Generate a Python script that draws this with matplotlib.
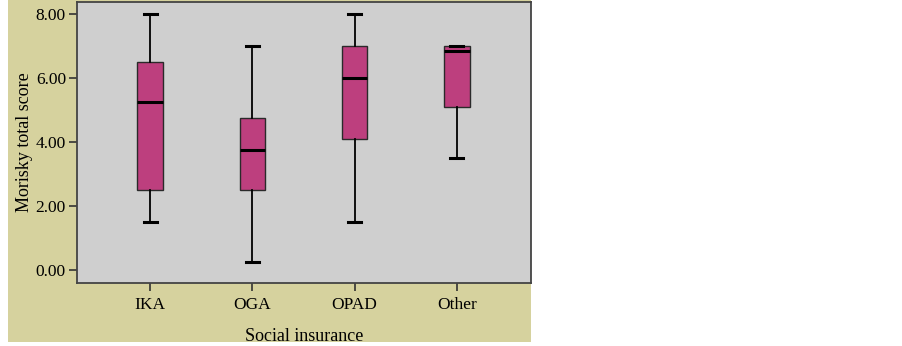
import matplotlib
matplotlib.use('Agg')
import matplotlib.pyplot as plt
from matplotlib.patches import Rectangle

# Morisky score by social insurance
categories = ['IKA', 'OGA', 'OPAD', 'Other']
whisker_low = [1.5, 0.25, 1.5, 3.5]
q1 = [2.5, 2.5, 4.1, 5.1]
median = [5.25, 3.75, 6.0, 6.83]
q3 = [6.5, 4.75, 7.0, 7.0]
whisker_high = [8.0, 7.0, 8.0, 7.0]
yticks = [0, 2, 4, 6, 8]

plt.rcParams['font.family'] = ['Liberation Serif', 'DejaVu Serif']

W, H = 903, 346
fig = plt.figure(figsize=(W / 100, H / 100), dpi=100)
fig.patch.set_facecolor('white')

# khaki panel behind the chart
fig.patches.append(Rectangle((8 / W, 1 - 342 / H), (531 - 8) / W, 342 / H,
                             transform=fig.transFigure, facecolor='#d6d29e',
                             edgecolor='none', zorder=-10))

ax = fig.add_axes([77 / W, 1 - 283 / H, (531 - 77) / W, (283 - 2) / H])
ax.set_zorder(1)
ax.set_facecolor('#cfcfcf')

stats = []
for i, name in enumerate(categories):
    stats.append({'label': name, 'whislo': whisker_low[i], 'q1': q1[i],
                  'med': median[i], 'q3': q3[i], 'whishi': whisker_high[i],
                  'fliers': []})

positions = list(range(1, len(categories) + 1))
ax.bxp(stats, positions=positions, widths=0.25, capwidths=0.125,
       patch_artist=True, showfliers=False,
       boxprops=dict(facecolor='#bd3f7e', edgecolor='#2a2a2a', linewidth=1.0),
       medianprops=dict(color='black', linewidth=2.2),
       whiskerprops=dict(color='black', linewidth=1.3),
       capprops=dict(color='black', linewidth=2.2))

ax.set_xlim(0.284, 4.725)
ax.set_ylim(-0.41, 8.375)
ax.set_yticks(yticks)
ax.set_yticklabels(['%.2f' % v for v in yticks])
ax.set_xticks(positions)
ax.set_xticklabels(categories)
ax.tick_params(axis='both', direction='out', length=6, width=1.2,
               color='#333333', labelsize=12.5)
ax.tick_params(axis='x', pad=4)
ax.tick_params(axis='y', pad=2)
for sp in ax.spines.values():
    sp.set_color('#444444')
    sp.set_linewidth(1.3)

ax.set_xlabel('Social insurance', fontsize=13, labelpad=11)
ax.set_ylabel('Morisky total score', fontsize=13, labelpad=2)

fig.savefig('out.png', dpi=100)
